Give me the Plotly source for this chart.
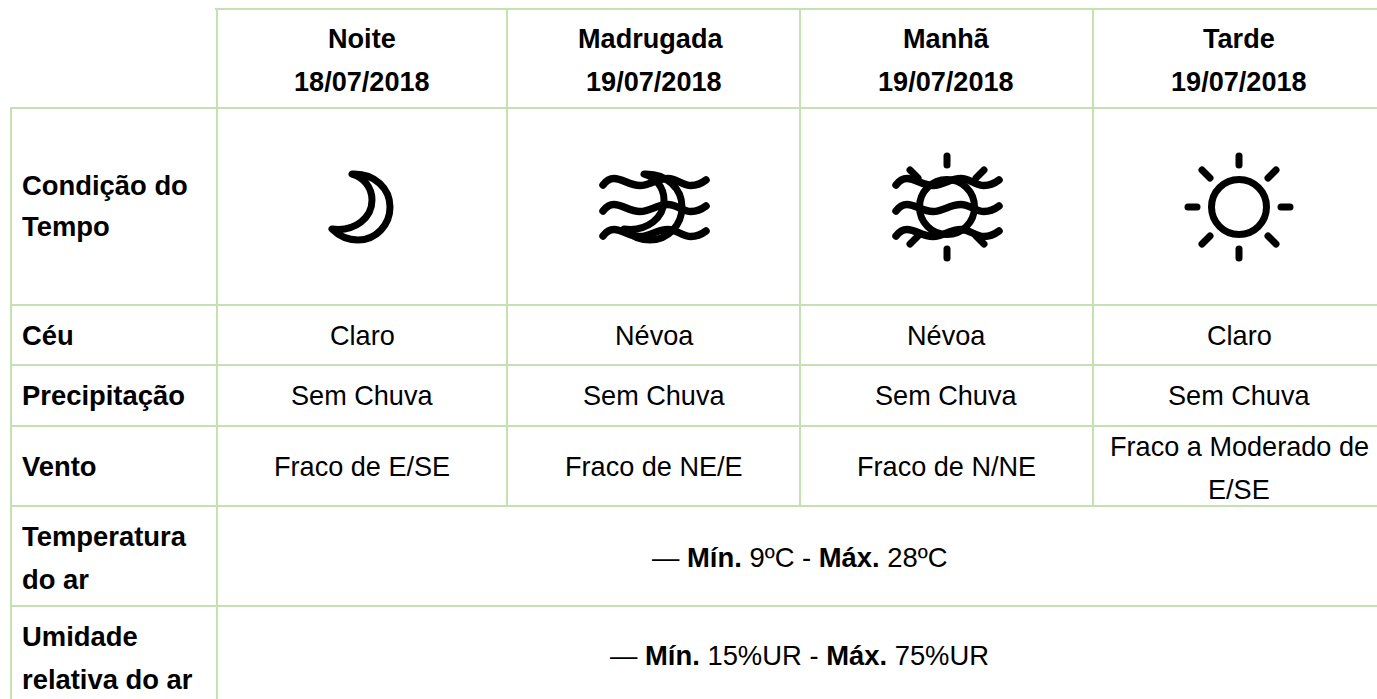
import plotly.graph_objects as go

# ---- table content ----
periods = ["Noite", "Madrugada", "Manhã", "Tarde"]
dates = ["18/07/2018", "19/07/2018", "19/07/2018", "19/07/2018"]
condition_icons = ["moon", "moon_mist", "sun_mist", "sun"]
row_labels = [["Condição do", "Tempo"], ["Céu"], ["Precipitação"], ["Vento"],
              ["Temperatura", "do ar"], ["Umidade", "relativa do ar"]]
sky = ["Claro", "Névoa", "Névoa", "Claro"]
rain = ["Sem Chuva", "Sem Chuva", "Sem Chuva", "Sem Chuva"]
wind = [["Fraco de E/SE"], ["Fraco de NE/E"], ["Fraco de N/NE"], ["Fraco a Moderado de", "E/SE"]]
temperature = "— <b>Mín.</b> 9ºC - <b>Máx.</b> 28ºC"
humidity = "— <b>Mín.</b> 15%UR - <b>Máx.</b> 75%UR"

# ---- layout constants ----
W, H = 1377, 699
FONT = "Liberation Sans"
FS = 27.1
FS_BOLD = 27.4
LINE = "#c5e0b3"
V = [217, 507, 800, 1093]
HL = [108, 305, 365, 426, 506, 606]
TOP = 9
LEFT = 11
CX = [362, 654, 946, 1239]
LABEL_X = 22
ICON_Y = 207
INK = "#000000"

fig = go.Figure()
shapes = []
ann = []


def seg(x0, y0, x1, y1):
    shapes.append(dict(type="line", xref="x", yref="y", x0=x0, y0=y0, x1=x1, y1=y1,
                       line=dict(color=LINE, width=2), layer="below"))


def txt(x, y, s, bold=False, anchor="center", size=None):
    ann.append(dict(x=x, y=y - 1, xref="x", yref="y", text=f"<b>{s}</b>" if bold else s, showarrow=False,
                    xanchor=anchor, yanchor="middle", align=anchor,
                    font=dict(family=FONT, size=size or (FS_BOLD if bold else FS), color="#000000"),
                    borderpad=0, borderwidth=0))


def path(d, w=7):
    shapes.append(dict(type="path", xref="x", yref="y", path=d, fillcolor="rgba(0,0,0,0)",
                       line=dict(color=INK, width=w), layer="above"))


def moon(cx, cy):
    dx, dy = cx - 362, cy - 207
    def p(x, y):
        return f"{x + dx},{y + dy}"
    path(f"M{p(352,174)} C{p(375,173)} {p(390,189)} {p(390,207)} C{p(390,225)} {p(376,240)} {p(358,240)} "
         f"C{p(348,240)} {p(339,236)} {p(332,229)} C{p(356,232)} {p(372,217)} {p(372,200)} C{p(372,187)} {p(363,177)} {p(352,174)} Z")


WAVE = [(3, -1), (6, -3.5), (11, -3.5), (20, -3.5), (26, 3.5), (37, 3.5), (48, 3.5), (53, -3.5), (65, -3.5),
        (74, -3.5), (79, 3.5), (88, 3.5), (94, 3.5), (99, 1), (103, -2)]


def waves(cx, cy):
    for yc in (cy - 25, cy + 1, cy + 26):
        x0 = cx - 51
        pts = [f"{x0 + a},{yc + b}" for a, b in WAVE]
        d = f"M{x0},{yc + 3}"
        for i in range(0, len(pts), 3):
            d += " C" + " ".join(pts[i:i + 3])
        path(d, w=7.5)


def ring(cx, cy, r=27.5):
    shapes.append(dict(type="circle", xref="x", yref="y", x0=cx - r, x1=cx + r, y0=cy - r, y1=cy + r,
                       fillcolor="rgba(0,0,0,0)", line=dict(color=INK, width=7), layer="above"))


def rays(cx, cy, a=42, b=51, c=29, d=37, partial=False):
    pairs = [(0, -1), (0, 1), (-1, 0), (1, 0)]
    for ux, uy in pairs:
        if partial and ux != 0:
            continue
        path(f"M{cx+ux*a},{cy+uy*a} L{cx+ux*b},{cy+uy*b}")
    for ux, uy in [(-1, -1), (1, -1), (-1, 1), (1, 1)]:
        path(f"M{cx+ux*c},{cy+uy*c} L{cx+ux*d},{cy+uy*d}")


# grid
seg(215, TOP, W, TOP)
seg(LEFT - 1, HL[0], W, HL[0])
for y in HL[1:]:
    seg(LEFT, y, W, y)
seg(V[0], TOP, V[0], H)
for x in V[1:]:
    seg(x, TOP, x, HL[4])
seg(LEFT, HL[0] - 1, LEFT, H)

# header
for x, p_, d_ in zip(CX, periods, dates):
    px = 650 if p_ == "Madrugada" else x
    txt(px, 39, p_, bold=True, size=FS)
    txt(x, 82, d_, bold=True, size=FS)

# row labels
label_y = [[186, 227], [336], [396], [467], [537, 580], [637, 680]]
for lines, ys in zip(row_labels, label_y):
    for s, y in zip(lines, ys):
        txt(LABEL_X, y, s, bold=True, anchor="left")

# body
for x, a, b, c in zip(CX, sky, rain, wind):
    txt(x, 336, a)
    txt(x, 396, b)
    if len(c) == 1:
        txt(x, 467, c[0])
    else:
        txt(x, 447, c[0])
        txt(x, 490, c[1])
txt(799.5, 558, temperature, size=FS_BOLD)
txt(799.5, 656, humidity, size=FS_BOLD)

# icons
for x, kind in zip(CX, condition_icons):
    if kind == "moon":
        moon(x, ICON_Y)
    elif kind == "moon_mist":
        moon(x, ICON_Y)
        waves(x, ICON_Y)
    elif kind == "sun_mist":
        ring(x + 1, ICON_Y)
        rays(x + 1, ICON_Y, partial=True)
        waves(x + 1, ICON_Y)
    else:
        ring(x, ICON_Y)
        rays(x, ICON_Y)

fig.add_trace(go.Scatter(x=[0, W], y=[0, H], mode="markers", marker=dict(opacity=0), hoverinfo="skip", showlegend=False))
fig.update_layout(width=W, height=H, margin=dict(l=0, r=0, t=0, b=0), paper_bgcolor="white", plot_bgcolor="white",
                  shapes=shapes, annotations=ann, showlegend=False,
                  xaxis=dict(range=[0, W], visible=False, fixedrange=True),
                  yaxis=dict(range=[H, 0], visible=False, fixedrange=True))
post = """
document.body.style.margin='0';
document.documentElement.style.overflow='hidden';
var s=document.createElement('style');
s.textContent='.layer-above .shapelayer path{stroke-linecap:round;stroke-linejoin:round}';
document.head.appendChild(s);
"""
fig.write_html("out.html", config={"displayModeBar": False}, post_script=post)
